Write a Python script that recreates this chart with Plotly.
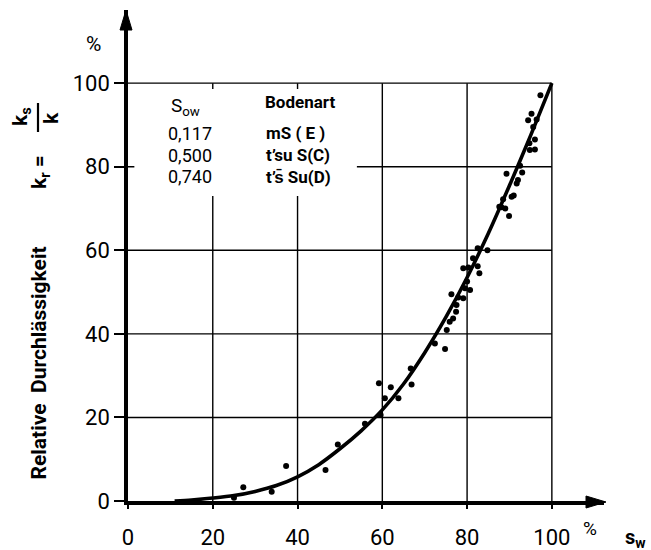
import plotly.graph_objects as go

# ---------------- data ----------------
tick_vals = [0, 20, 40, 60, 80, 100]
tick_text = ["0", "20", "40", "60", "80", "100"]
grid_vals = [20, 40, 60, 80, 100]

# fitted curve  k_r (%) vs s_w (%)
curve_sw = [11, 15, 20, 25, 30, 35, 40, 45, 50, 55, 60, 65, 70, 75, 80, 85, 90, 95, 100]
curve_kr = [0, 0.25, 0.7, 1.3, 2.3, 3.7, 5.8, 8.7, 12.5, 16.8, 21.8, 28.0, 35.5, 44.0, 53.5, 64.0, 75.5, 87.5, 100]

# measured points
pts_sw = [25.0, 27.2, 33.9, 37.3, 46.6, 49.5, 55.9, 59.2, 59.6, 60.6, 62.0, 63.8,
          66.7, 66.9, 72.4, 74.8, 75.2, 75.9, 76.7, 77.4, 77.5, 76.3, 77.9, 79.1,
          79.5, 80.7, 79.1, 80.3, 81.4, 82.5, 82.9, 84.8, 80.0, 82.5, 87.6, 88.1,
          88.5, 89.0, 89.9, 89.3, 90.5, 91.0, 91.7, 92.0, 92.5, 93.0, 94.4, 94.7,
          94.8, 95.2, 95.6, 96.0, 96.0, 96.4, 97.3]
pts_kr = [0.8, 3.3, 2.2, 8.4, 7.4, 13.5, 18.5, 28.2, 20.6, 24.6, 27.2, 24.6,
          31.7, 27.9, 37.7, 36.4, 40.9, 42.9, 43.7, 45.3, 46.9, 49.5, 48.7, 48.5,
          50.9, 50.5, 55.7, 55.9, 58.1, 56.2, 54.5, 60.0, 52.5, 60.5, 70.4, 70.3,
          72.2, 70.0, 68.2, 78.3, 72.8, 73.1, 76.0, 76.8, 80.2, 78.6, 91.1, 85.6,
          84.0, 92.7, 89.5, 86.5, 84.1, 91.3, 97.1]

legend_sow = ["0,117", "0,500", "0,740"]
legend_soil = ["mS ( E )", "t\u2019su S(C)", "t\u2019s\u0304 Su(D)"]

# ---------------- layout geometry ----------------
W, H = 651, 550
ML, MR, MT, MB = 128, 47, 10, 49
PW, PH = W - ML - MR, H - MT - MB
XMAX, YMAX = 112.3, 117.5

def px2paper(px, py):
    return (px - ML) / PW, (H - MB - py) / PH

FONT = "Roboto, 'Liberation Sans', Arial, sans-serif"

fig = go.Figure()

fig.add_trace(go.Scatter(
    x=curve_sw, y=curve_kr, mode="lines",
    line=dict(color="black", width=3.6, shape="spline", smoothing=0.8),
    hoverinfo="skip", showlegend=False))

fig.add_trace(go.Scatter(
    x=pts_sw, y=pts_kr, mode="markers",
    marker=dict(color="black", size=6),
    showlegend=False))

shapes = []
# grid lines limited to 0..100
for v in grid_vals:
    shapes.append(dict(type="line", xref="x", yref="y", x0=v, x1=v, y0=0, y1=100,
                       line=dict(color="black", width=1.4), layer="below"))
    shapes.append(dict(type="line", xref="x", yref="y", x0=0, x1=100, y0=v, y1=v,
                       line=dict(color="black", width=1.4), layer="below"))
# white box behind the legend text
shapes.append(dict(type="rect", xref="x", yref="y", x0=1.5, x1=54, y0=73, y1=98.6,
                   fillcolor="white", line=dict(width=0), layer="below"))

# arrow heads
ax0, ay0 = px2paper(126, 10)
b0x1, b0y1 = px2paper(120, 30)
b0x2, b0y2 = px2paper(132, 30)
shapes.append(dict(type="path", xref="paper", yref="paper",
                   path=f"M {ax0} {ay0} L {b0x1} {b0y1} L {b0x2} {b0y2} Z",
                   fillcolor="black", line=dict(color="black", width=1)))
tx, ty = px2paper(606, 502)
c1x, c1y = px2paper(586, 496)
c2x, c2y = px2paper(586, 508)
shapes.append(dict(type="path", xref="paper", yref="paper",
                   path=f"M {tx} {ty} L {c1x} {c1y} L {c2x} {c2y} Z",
                   fillcolor="black", line=dict(color="black", width=1)))
# fraction bar of k_s / k
fb1x, fb1y = px2paper(38, 103)
fb2x, fb2y = px2paper(38, 132)
shapes.append(dict(type="line", xref="paper", yref="paper", x0=fb1x, x1=fb2x, y0=fb1y, y1=fb2y,
                   line=dict(color="black", width=2.2)))

ann = []
def add_text(text, px, py, size, xanchor="center", yanchor="middle", angle=0, bold=False):
    x, y = px2paper(px, py)
    ann.append(dict(text=(f"<b>{text}</b>" if bold else text), x=x, y=y, xref="paper", yref="paper",
                    showarrow=False, xanchor=xanchor, yanchor=yanchor, textangle=angle,
                    font=dict(family=FONT, size=size, color="black")))

# y title
add_text("Relative  Durchlässigkeit", 38, 482, 21, yanchor="bottom", angle=-90, bold=True)
add_text("k<sub>r</sub> =", 40, 172, 21, angle=-90, bold=True)
add_text("k<sub>s</sub>", 21, 117, 21, angle=-90, bold=True)
add_text("k", 51, 118, 21, angle=-90, bold=True)

# percent signs and s_w
add_text("%", 93, 44, 21)
add_text("%", 590, 528, 19)
add_text("s<sub>w</sub>", 648, 538, 20, xanchor="right", bold=True)

# legend block
add_text("S<sub>ow</sub>", 185, 106, 19)
add_text("Bodenart", 263, 102, 17, xanchor="left", bold=True)
rows_y = [133, 155, 177]
for s, soil, yy in zip(legend_sow, legend_soil, rows_y):
    add_text(s, 166, yy, 18, xanchor="left")
    add_text(soil, 264, yy, 17, xanchor="left", bold=True)

fig.update_layout(
    width=W, height=H,
    margin=dict(l=ML, r=MR, t=MT, b=MB, autoexpand=False),
    paper_bgcolor="white", plot_bgcolor="white",
    shapes=shapes, annotations=ann,
    showlegend=False,
    xaxis=dict(range=[0, XMAX], tickvals=tick_vals, ticktext=tick_text, automargin=False,
               showgrid=False, zeroline=False, showline=True, linecolor="black", linewidth=3.5,
               ticks="outside", ticklen=4, tickwidth=1.5, tickcolor="black",
               ticklabelstandoff=10,
               tickfont=dict(family=FONT, size=22, color="black")),
    yaxis=dict(range=[0, YMAX], tickvals=tick_vals, ticktext=tick_text, automargin=False,
               showgrid=False, zeroline=False, showline=True, linecolor="black", linewidth=3.5,
               ticks="outside", ticklen=10, tickwidth=1.5, tickcolor="black",
               tickfont=dict(family=FONT, size=22, color="black")),
)

fig.write_html("out.html")
